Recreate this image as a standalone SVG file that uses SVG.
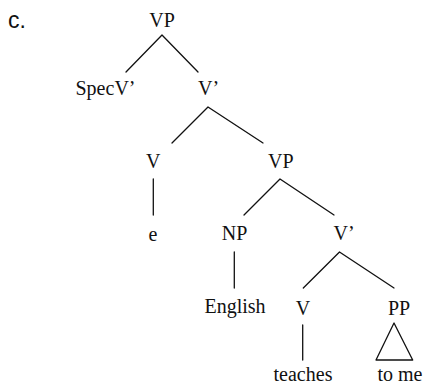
<svg xmlns="http://www.w3.org/2000/svg" width="425" height="390" viewBox="0 0 425 390">
  <style>
    .lbl { font-family: "Liberation Serif", "Times New Roman", serif; font-size: 20px; fill: #111; text-anchor: middle; }
    .edge { stroke: #111; stroke-width: 1.3; fill: none; stroke-linecap: round; stroke-linejoin: round; }
    .tag { font-family: "Liberation Sans", Arial, sans-serif; font-size: 23px; fill: #111; }
  </style>
  <rect width="425" height="390" fill="#fff"/>

  <text class="tag" x="8" y="28">c.</text>

  <!-- branches of the tree -->
  <g id="connectors">
    <path class="edge" d="M126,72 L162,35 L198,72"/>
    <path class="edge" d="M172,143 L208,107 L263,143"/>
    <path class="edge" d="M153.3,179 L153.3,215"/>
    <path class="edge" d="M244,215 L280,179 L334,215"/>
    <path class="edge" d="M234.3,252 L234.3,288"/>
    <path class="edge" d="M303.3,288 L339.5,252 L394,288"/>
    <path class="edge" d="M302.7,325 L302.7,360"/>
    <path class="edge" d="M394,323 L376,360 L412.7,360 Z"/>
  </g>

  <g id="vp-top"><text class="lbl" x="162" y="27">VP</text></g>
  <g id="specv"><text class="lbl" x="105.5" y="95">SpecV’</text></g>
  <g id="vbar-top"><text class="lbl" x="208.5" y="95">V’</text></g>
  <g id="v-upper"><text class="lbl" x="153.3" y="168">V</text></g>
  <g id="vp-mid"><text class="lbl" x="280.8" y="168">VP</text></g>
  <g id="e"><text class="lbl" x="153" y="241">e</text></g>
  <g id="np"><text class="lbl" x="234.5" y="240">NP</text></g>
  <g id="vbar-low"><text class="lbl" x="344" y="240">V’</text></g>
  <g id="english"><text class="lbl" x="235" y="313">English</text></g>
  <g id="v-lower"><text class="lbl" x="303" y="315">V</text></g>
  <g id="pp"><text class="lbl" x="399" y="315">PP</text></g>
  <g id="teaches"><text class="lbl" x="303" y="381">teaches</text></g>
  <g id="to-me"><text class="lbl" x="400" y="381">to me</text></g>
</svg>
